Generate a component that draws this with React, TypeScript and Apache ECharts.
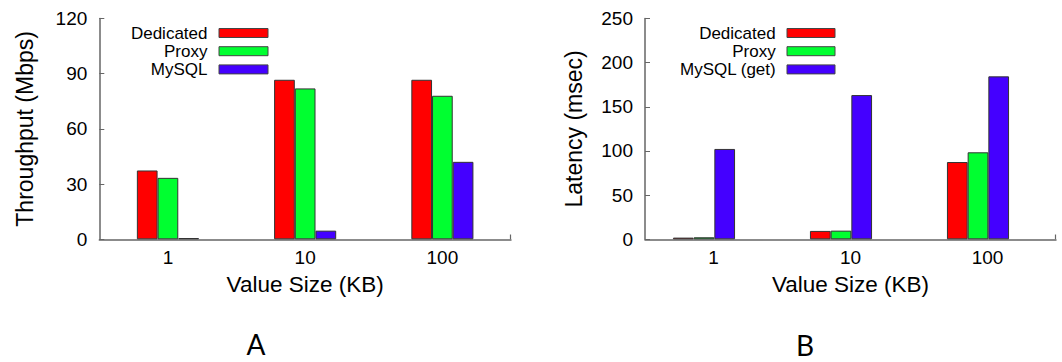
import React, { useEffect, useRef } from "react";
import * as echarts from "echarts";

const categories = ["1", "10", "100"];
const seriesNamesA = ["Dedicated", "Proxy", "MySQL"];
const seriesNamesB = ["Dedicated", "Proxy", "MySQL (get)"];
const throughputDedicated = [37.4, 86.7, 86.7];
const throughputProxy = [33.4, 82, 78];
const throughputMySQL = [0.7, 4.7, 42.1];
const latencyDedicated = [1.9, 9.5, 87.5];
const latencyProxy = [2.3, 9.8, 98.5];
const latencyMySQL = [102.3, 163.3, 184.5];
const colors = ["#ff0000", "#00ff30", "#4400ff"];

const FONT = "'Liberation Sans', Arial, sans-serif";
const axisColor = "#666";

function barSeries(name: string, data: (number | null)[], color: string, xi: number, width: number) {
  return {
    name,
    type: "bar",
    xAxisIndex: xi,
    yAxisIndex: xi,
    data,
    barWidth: width,
    barGap: "0%",
    itemStyle: { color, borderColor: "#333", borderWidth: 1 },
  };
}

function legendGraphic(names: string[], textRight: number, swX: number, swW: number) {
  const ys = [33, 51.2, 69.4];
  const els: any[] = [];
  names.forEach((n, i) => {
    els.push({
      type: "text",
      x: textRight,
      y: ys[i],
      style: { text: n, font: `17px ${FONT}`, fill: "#000", align: "right", verticalAlign: "middle" },
    });
    els.push({
      type: "rect",
      shape: { x: swX, y: ys[i] - 4.5, width: swW, height: 9 },
      style: { fill: colors[i], stroke: "#444", lineWidth: 1 },
    });
  });
  return els;
}

function xAxis(gi: number) {
  return {
    type: "category",
    gridIndex: gi,
    data: categories,
    boundaryGap: true,
    name: "Value Size (KB)",
    nameLocation: "middle",
    nameGap: 34,
    nameTextStyle: { fontFamily: FONT, fontSize: 22.5, color: "#000" },
    axisLine: { lineStyle: { color: axisColor, width: 1.5 } },
    axisTick: { show: false },
    axisLabel: { fontFamily: FONT, fontSize: 19, color: "#000", margin: 9 },
    splitLine: { show: false },
  };
}

function yAxis(gi: number, name: string, max: number, interval: number, gap: number) {
  return {
    type: "value",
    gridIndex: gi,
    min: 0,
    max,
    interval,
    name,
    nameLocation: "middle",
    nameGap: gap,
    nameMoveOverlap: false,
    nameTextStyle: { fontFamily: FONT, fontSize: 23, color: "#000" },
    axisLine: { show: true, lineStyle: { color: axisColor, width: 1.5 } },
    axisTick: { show: true, inside: true, length: 5, lineStyle: { color: axisColor } },
    axisLabel: { fontFamily: FONT, fontSize: 19, color: "#000", margin: 12 },
    splitLine: { show: false },
  };
}

export default function App() {
  const ref = useRef<HTMLDivElement>(null);
  useEffect(() => {
    if (!ref.current) return;
    const chart = echarts.init(ref.current, null, { renderer: "svg" });
    chart.setOption({
      animation: false,
      backgroundColor: "#fff",
      grid: [
        { left: 99.3, right: 551, top: 18.5, bottom: 122.7 },
        { left: 645, right: 6, top: 18.5, bottom: 122.7 },
      ],
      xAxis: [xAxis(0), xAxis(1)],
      yAxis: [
        yAxis(0, "Throughput (Mbps)", 120, 30, 63),
        yAxis(1, "Latency (msec)", 250, 50, 60),
      ],
      series: [
        barSeries(seriesNamesA[0], throughputDedicated, colors[0], 0, 20.7),
        barSeries(seriesNamesA[1], throughputProxy, colors[1], 0, 20.7),
        barSeries(seriesNamesA[2], throughputMySQL, colors[2], 0, 20.7),
        barSeries(seriesNamesB[0], latencyDedicated, colors[0], 1, 20.7),
        barSeries(seriesNamesB[1], latencyProxy, colors[1], 1, 20.7),
        barSeries(seriesNamesB[2], latencyMySQL, colors[2], 1, 20.7),
        { ...barSeries("spacer", [null, null, null], "transparent", 1, 19), silent: true },
      ],
      graphic: [
        ...legendGraphic(seriesNamesA, 207.5, 219, 49),
        ...legendGraphic(seriesNamesB, 775.7, 787, 48),
        {
          type: "line",
          shape: { x1: 510.5, y1: 234.5, x2: 510.5, y2: 239.3 },
          style: { stroke: axisColor, lineWidth: 1.2 },
        },
        {
          type: "line",
          shape: { x1: 1055.5, y1: 234.5, x2: 1055.5, y2: 239.3 },
          style: { stroke: axisColor, lineWidth: 1.2 },
        },
        {
          type: "text",
          x: 256,
          y: 344,
          style: { text: "A", font: `28px Lato, sans-serif`, fill: "#000", align: "center", verticalAlign: "middle" },
        },
        {
          type: "text",
          x: 805,
          y: 345,
          style: { text: "B", font: `28px Lato, sans-serif`, fill: "#000", align: "center", verticalAlign: "middle" },
        },
      ],
    });
    return () => chart.dispose();
  }, []);
  return <div ref={ref} style={{ width: 1062, height: 362, position: "absolute", left: 0, top: 0 }} />;
}
